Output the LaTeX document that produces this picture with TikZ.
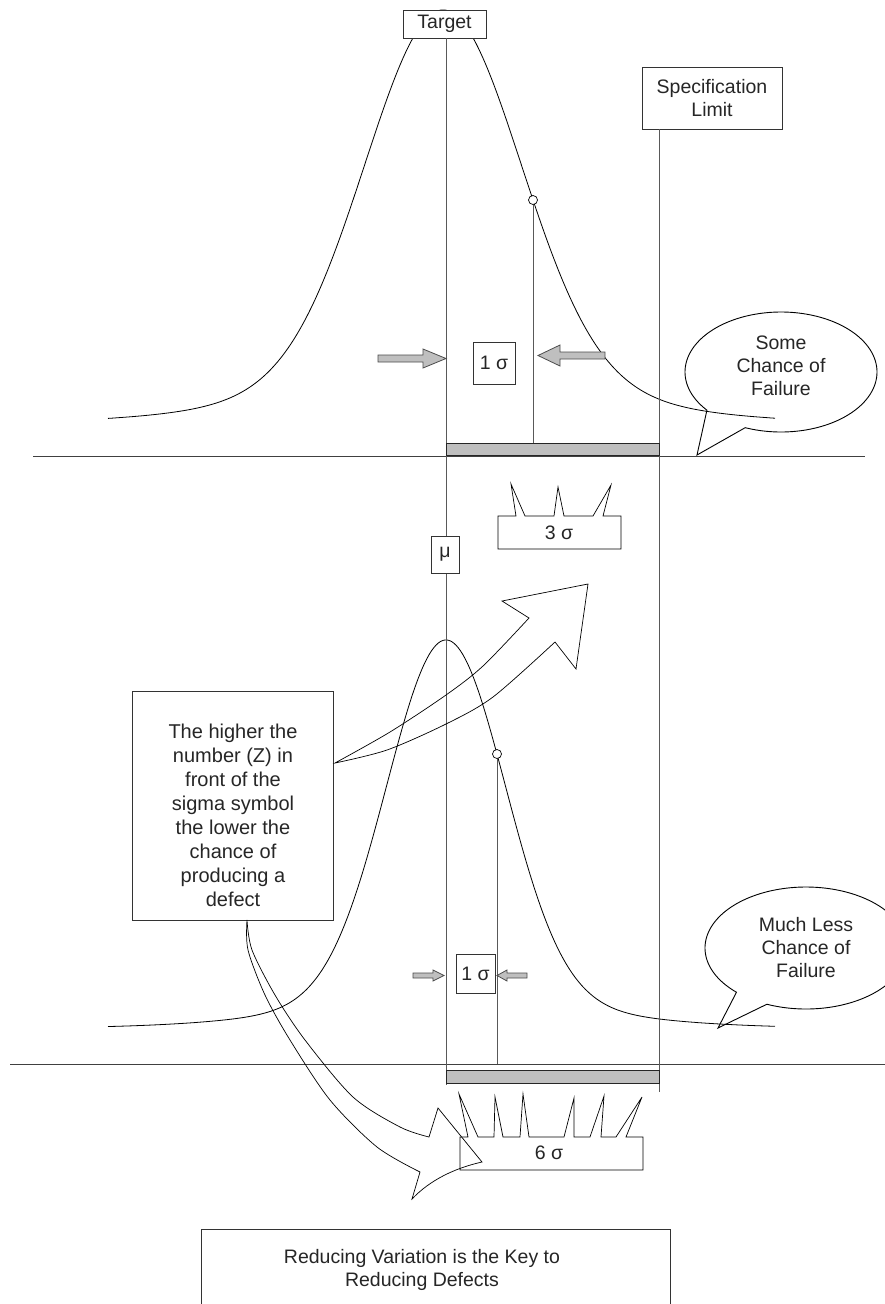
\documentclass[tikz,border=0pt]{standalone}
\usepackage{fontspec}
\setmainfont{Liberation Sans}
\begin{document}
\begin{tikzpicture}[x=1pt,y=-1pt,
  every node/.style={font=\fontsize{19.5}{23}\selectfont, inner sep=0pt, text=black!85},
  boxnode/.style={draw=black!80, fill=white, line width=0.8pt},
  vline/.style={draw=black!65, line width=1pt},
  hline/.style={draw=black!75, line width=1pt},
  curve/.style={draw=black, line width=0.8pt},
  graybar/.style={draw=black!85, fill=black!25, line width=1pt},
  garrow/.style={draw=black!70, fill=black!25, line width=0.8pt, line join=miter},
  bigarrow/.style={draw=black, line width=0.7pt, line join=miter},
  bubble/.style={draw=black, line width=0.9pt},
  crown/.style={draw=black, fill=white, line width=0.7pt, line join=miter},
  marker/.style={circle, draw=black, fill=white, minimum size=9pt, line width=0.7pt},
]
\useasboundingbox (0,0) rectangle (885,1304);
\clip (0,0) rectangle (885,1304);
\fill[white] (0,0) rectangle (885,1304);

% horizontal base lines
\coordinate (h1a) at (33,456); \coordinate (h1b) at (865,456);
\coordinate (h2a) at (10,1064); \coordinate (h2b) at (885,1064);
\draw[hline] (h1a) -- (h1b);
\draw[hline] (h2a) -- (h2b);

% distributions
\draw[curve] plot[domain=108:775, samples=300] (\x, {423 - 413*(0.9*exp(-0.5*((\x-443)/77)^2) + 0.1*exp(-0.5*((\x-443)/160)^2))});
\draw[curve] plot[domain=108:775, samples=300] (\x, {1028 - 388*(0.93*exp(-0.5*((\x-446)/59)^2) + 0.07*exp(-0.5*((\x-446)/140)^2))});

% header boxes
\node[boxnode, minimum width=83pt, minimum height=28pt] (target) at (444.5,24) {Target};
\node[boxnode, minimum width=140pt, minimum height=62pt, align=center] (spec) at (712,98) {Specification\\Limit};

% long vertical lines
\coordinate (muend) at (446,1085);
\coordinate (specend) at (659,1092);
\draw[vline] (target.south -| muend) -- (muend);
\draw[vline] (spec.south -| specend) -- (specend);

% gray bars
\node[graybar, minimum width=213pt, minimum height=12pt] (bar1) at (552.5,449) {};
\node[graybar, minimum width=213pt, minimum height=13pt] (bar2) at (552.5,1076.5) {};

% one-sigma markers and lines
\node[marker] (m1) at (533,200) {};
\draw[vline] (m1) -- (m1 |- bar1.north);
\node[marker] (m2) at (497,754) {};
\draw[vline] (m2) -- (m2 |- h2a);

% sigma boxes
\node[boxnode, minimum width=42pt, minimum height=42pt] (s1) at (494,363) {1 σ};
\node[boxnode, minimum width=39pt, minimum height=39pt] (s2) at (475.5,973.5) {1 σ};
\node[boxnode, minimum width=28pt, minimum height=37pt] (mu) at (445,554.5) {μ};

% gray block arrows
\draw[garrow] (378,355) -- (423,355) -- (423,349) -- (446,358.5) -- (423,368) -- (423,362) -- (378,362) -- cycle;
\draw[garrow] (605,352) -- (560,352) -- (560,345) -- (538,355.5) -- (560,366) -- (560,359) -- (605,359) -- cycle;
\draw[garrow] (413,973) -- (433,973) -- (433,970) -- (444,975.5) -- (433,981) -- (433,978) -- (413,978) -- cycle;
\draw[garrow] (527,973) -- (507,973) -- (507,970) -- (497,975.5) -- (507,981) -- (507,978) -- (527,978) -- cycle;

% crowns
\draw[crown] (498,549) -- (498,516) -- (516,516) -- (511,484) -- (525,516) -- (554,516) -- (558,487) -- (564,516) -- (593,516) -- (611,485) -- (603,516) -- (621,516) -- (621,549) -- cycle;
\node (c3) at (559,533) {3 σ};
\draw[crown] (460,1170) -- (460,1137) -- (468,1137) -- (459,1094) -- (478,1137) -- (494,1137) -- (495,1097) -- (503,1137) -- (520,1137) -- (523,1094) -- (529,1137) -- (564,1137) -- (574,1098) -- (574,1137) -- (590,1137) -- (604,1096) -- (601,1137) -- (616,1137) -- (642,1097) -- (626,1137) -- (643,1137) -- (643,1170) -- cycle;
\node (c6) at (549,1153) {6 σ};

% left explanation box
\node[boxnode, minimum width=201pt, minimum height=229pt] (zbox) at (232.5,805.5) {};
\node[align=center, font=\fontsize{20}{24}\selectfont] (ztext) at (233,815) {The higher the\\number (Z) in\\front of the\\sigma symbol\\the lower the\\chance of\\producing a\\defect};

% big curved arrows
\draw[bigarrow] plot[smooth] coordinates {(335,763) (390,732) (446,695) (483,666) (529,618)} -- (502,601) -- (588,584) -- (576,669) -- (555,642) -- plot[smooth] coordinates {(555,642) (493,697) (446,724) (387,750) (335,763)} -- cycle;
\draw[bigarrow] plot[smooth] coordinates {(247,920) (252,950) (275,995) (305,1040) (353,1097) (400,1127) (429,1137)} -- (438,1108) -- (482,1162) .. controls (455,1168) and (430,1180) .. (412,1199) -- (420,1172) -- plot[smooth] coordinates {(420,1172) (377,1147) (330,1100) (290,1040) (265,995) (248,950) (247,920)} -- cycle;

% speech bubbles
\draw[bubble] (697,455) -- plot[domain=140.5:471.9, samples=150] ({781+96*cos(\x)}, {372+60*sin(\x)}) -- cycle;
\node[align=center] (b1) at (781,366) {Some\\Chance of\\Failure};
\draw[bubble] (718,1028) -- plot[domain=133.5:472.8, samples=150] ({806+101*cos(\x)}, {948+61*sin(\x)}) -- cycle;
\node[align=center] (b2) at (806,948) {Much Less\\Chance of\\Failure};

% bottom key box
\node[boxnode, minimum width=469pt, minimum height=100pt] (keybox) at (435.5,1279) {};
\node[align=center] (keytext) at (422,1270) {Reducing Variation is the Key to\\Reducing Defects};
\end{tikzpicture}
\end{document}
